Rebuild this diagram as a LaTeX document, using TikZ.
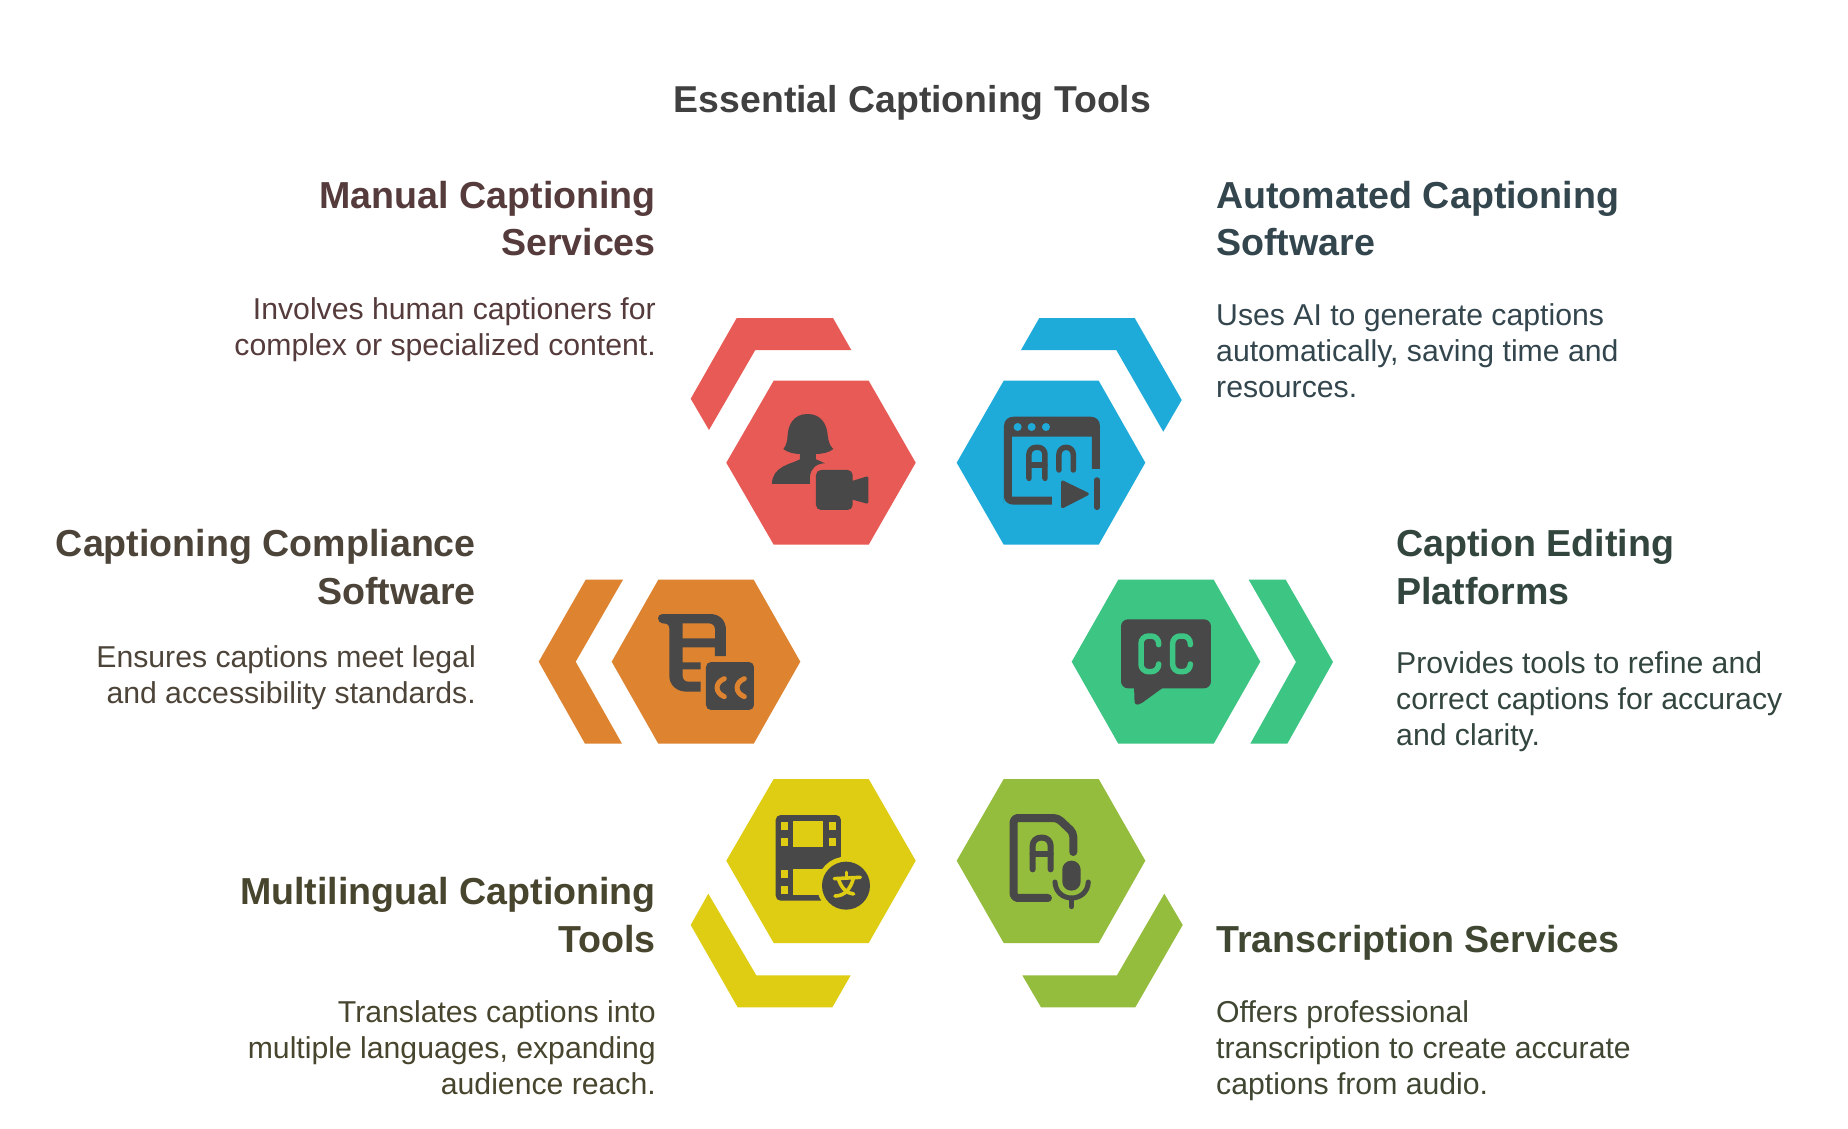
\documentclass[tikz,border=0pt]{standalone}
\usepackage{fontspec}
\setmainfont{Liberation Sans}
\definecolor{cred}{HTML}{E85A55}
\definecolor{cblue}{HTML}{1EABDA}
\definecolor{corange}{HTML}{DE8431}
\definecolor{cgreen}{HTML}{3CC583}
\definecolor{cyellow}{HTML}{DFCD14}
\definecolor{colive}{HTML}{94BC3D}
\definecolor{cicon}{HTML}{484848}
\definecolor{tred}{HTML}{553B3B}
\definecolor{tblue}{HTML}{33454D}
\definecolor{torange}{HTML}{4D4439}
\definecolor{tgreen}{HTML}{33463E}
\definecolor{tyellow}{HTML}{48452E}
\definecolor{tolive}{HTML}{3F4732}
\definecolor{ttitle}{HTML}{404040}
\newcommand{\hfirst}{\rule{0pt}{40pt}}
\newcommand{\bfirst}{\rule{0pt}{30pt}}
\tikzset{
  head/.style={inner sep=0pt,font=\fontsize{37.6}{47.5}\selectfont\bfseries},
  body/.style={inner sep=0pt,font=\fontsize{30.2}{36}\selectfont},
  R/.style={anchor=north east,align=right},
  L/.style={anchor=north west,align=left},
  icon/.style={x=0.3333pt,y=-0.3333pt},
}
\begin{document}
\begin{tikzpicture}[x=1pt,y=-1pt]
\useasboundingbox (0,0) rectangle (1848,1128);
\fill[white] (0,0) rectangle (1848,1128);
% hexagons and brackets
\fill[cred] (726.3,462.7)--(773.7,380.7)--(868.7,380.7)--(915.7,462.7)--(868.7,544.7)--(773.7,544.7)--cycle;
\fill[cred] (736.7,318)--(833,318)--(851.3,350)--(755.3,350)--(709,430)--(690.7,398.7)--cycle;
\fill[cblue] (956.7,462.7)--(1003.7,380.7)--(1098.7,380.7)--(1145.3,462.7)--(1098.7,544.7)--(1003.7,544.7)--cycle;
\fill[cblue] (1039.3,318)--(1134.7,318)--(1181.7,400)--(1163.3,431.7)--(1116.3,350)--(1021,350)--cycle;
\fill[corange] (611.7,661.7)--(658.3,579.7)--(753.7,579.7)--(800.3,661.7)--(753.7,743.7)--(658.3,743.7)--cycle;
\fill[corange] (585.7,579.7)--(623,579.7)--(575.7,661.7)--(622,743.7)--(585,743.7)--(538.7,661.7)--cycle;
\fill[cgreen] (1071.7,661.7)--(1118.3,579.7)--(1213.7,579.7)--(1260.3,661.7)--(1213.7,743.7)--(1118.3,743.7)--cycle;
\fill[cgreen] (1248.7,579.7)--(1285.7,579.7)--(1333,662)--(1287.3,743.7)--(1250.3,743.7)--(1296,662)--cycle;
\fill[cyellow] (726.3,860.7)--(773.7,779)--(868.7,779)--(915.7,860.7)--(868.7,943)--(773.7,943)--cycle;
\fill[cyellow] (708.3,893.7)--(690.7,925)--(737.7,1007.3)--(832.3,1007.3)--(850.7,975.3)--(756.3,975.3)--cycle;
\fill[colive] (956.7,860.7)--(1003.7,779)--(1098.7,779)--(1145.3,860.7)--(1098.7,943)--(1003.7,943)--cycle;
\fill[colive] (1164.3,893.7)--(1182.7,925)--(1135.3,1007.3)--(1041,1007.3)--(1022.3,975.3)--(1117,975.3)--cycle;
% person + camera
\begin{scope}[shift={(680,300)},icon]
\fill[cicon] (383,342) .. controls (340,342) and (325,375) .. (323,405)
  .. controls (322,425) and (318,438) .. (310,447)
  .. controls (322,458) and (345,462) .. (360,462) -- (360,478)
  .. controls (335,492) and (276,498) .. (276,552) -- (390,552) -- (390,530)
  .. controls (392,505) and (410,490) .. (435,490) -- (408,478) -- (408,462)
  .. controls (425,462) and (448,458) .. (460,447)
  .. controls (450,438) and (445,425) .. (443,405)
  .. controls (441,375) and (425,342) .. (383,342) -- cycle;
\fill[cicon,rounded corners=5pt] (408,510) rectangle (518,630);
\fill[cicon,rounded corners=1.5pt] (510,545)--(565,528)--(565,612)--(510,597)--cycle;
% window
\fill[cicon] (972,614) -- (972,378) .. controls (972,360) and (985,350) .. (1002,350)
  -- (1230,350) .. controls (1248,350) and (1260,360) .. (1260,378) -- (1260,507) -- (1236,507) -- (1236,410) -- (996,410)
  -- (996,590) -- (1116,590) -- (1116,614) -- (1000,614) .. controls (985,614) and (972,604) .. (972,590) -- cycle;
\foreach \cx in {1013,1055,1098} \fill[cblue] (\cx,381) circle[radius=4pt];
\begin{scope}[draw=cicon,line width=5.5pt,line cap=round,line join=round]
\draw[rounded corners=7pt] (1047,535)--(1047,442)--(1095,442)--(1095,535);
\draw (1047,495)--(1095,495);
\draw[rounded corners=7pt] (1137,510)--(1137,442)--(1180,442)--(1180,510);
\end{scope}
\fill[cicon,draw=cicon,line width=3pt,line join=round] (1148,546)--(1222,582)--(1148,620)--cycle;
\draw[cicon,line width=5.5pt,line cap=round] (1251,540)--(1251,622);
\end{scope}
% orange icon
\begin{scope}[shift={(530,570)},icon]
\fill[cicon] (397,132) -- (540,132) .. controls (570,132) and (588,152) .. (588,180) -- (588,258) -- (555,258) -- (555,232) -- (458,232) -- (458,277) -- (512,277) -- (512,298) -- (458,298) -- (458,318) .. controls (458,328) and (465,335) .. (475,335) -- (512,335) -- (512,365) -- (470,365) .. controls (440,365) and (418,345) .. (418,318) -- (418,175) .. controls (418,165) and (412,160) .. (397,160) .. controls (380,158) and (380,132) .. (397,132) -- cycle;
\fill[corange] (458,160) -- (535,160) .. controls (548,160) and (555,168) .. (555,180) -- (555,205) -- (458,205) -- cycle;
\fill[cicon,rounded corners=5pt] (528,276) rectangle (672,420);
\draw[corange,line width=5pt,line cap=round] (583,326) .. controls (554,338) and (554,368) .. (583,380);
\draw[corange,line width=5pt,line cap=round] (643,326) .. controls (614,338) and (614,368) .. (643,380);
\end{scope}
% cc bubble
\begin{scope}[shift={(1060,570)},icon]
\fill[cicon,rounded corners=7pt] (183,148) rectangle (453,355);
\fill[cicon,rounded corners=3pt] (222,345)--(224,405)--(240,403)--(320,345)--cycle;
\begin{scope}[draw=cgreen,line width=5.5pt,line cap=round]
\draw[rounded corners=7.5pt] (296,224)--(296,198)--(243,198)--(243,305)--(296,305)--(296,282);
\draw[rounded corners=7.5pt] (391,224)--(391,198)--(338,198)--(338,305)--(391,305)--(391,282);
\end{scope}
\end{scope}
% film + translate
\begin{scope}[shift={(680,770)},icon]
\fill[cicon,rounded corners=5pt] (287,135) rectangle (483,392);
\foreach \a/\b in {303/155,303/204,303/300,303/348,447/155,447/204}
  \fill[cyellow] (\a,\b) rectangle ++(20,24);
\fill[cyellow] (339,153) rectangle (430,231);
\fill[cyellow] (339,298) rectangle (440,374);
\fill[cyellow] (498,347) circle[radius=29pt];
\fill[cicon] (498,347) circle[radius=24pt];
\begin{scope}[draw=cyellow,line width=3.6pt,line cap=round]
\draw (500,307)--(500,322);
\draw (463,326)--(541,322);
\draw (476,328) .. controls (482,350) and (500,372) .. (521,372);
\draw (520,326) .. controls (512,355) and (495,378) .. (465,378);
\end{scope}
\end{scope}
% doc + mic
\begin{scope}[shift={(680,770)},icon]
\begin{scope}[draw=cicon,line cap=round]
\draw[line width=8pt,rounded corners=4pt,line join=round] (1180,246)--(1180,188)--(1133,144)--(1001,144)--(1001,384)--(1104,384);
\draw[line width=6pt,rounded corners=8pt] (1058,298)--(1058,203)--(1112,203)--(1112,298);
\draw[line width=6pt] (1058,252)--(1112,252);
\draw[line width=5pt] (1125,336) .. controls (1128,400) and (1222,400) .. (1225,336);
\draw[line width=5pt] (1175,385)--(1175,410);
\end{scope}
\fill[cicon,rounded corners=9pt] (1147,272) rectangle (1202,362);
\end{scope}
% texts
\node[inner sep=0pt,anchor=base,font=\fontsize{37.4}{42}\selectfont\bfseries,text=ttitle] (title) at (912.5,112) {Essential Captioning Tools};
\node[head,R,text=tred] (h1) at (656,168) {\hfirst Manual Captioning\\Services};
\node[body,R,text=tred] (b1) at (656,289.5) {\bfirst Involves human captioners for\\complex or specialized content.};
\node[head,L,text=tblue] (h2) at (1216,168) {\hfirst Automated Captioning\\Software};
\node[body,L,text=tblue] (b2) at (1216,295.5) {\bfirst Uses AI to generate captions\\automatically, saving time and\\resources.};
\node[head,R,text=torange] (h3) at (476,516.3) {\hfirst Captioning Compliance\\Software};
\node[body,R,text=torange] (b3) at (476,637.5) {\bfirst Ensures captions meet legal\\and accessibility standards.};
\node[head,L,text=tgreen] (h4) at (1396,516.3) {\hfirst Caption Editing\\Platforms};
\node[body,L,text=tgreen] (b4) at (1396,643.5) {\bfirst Provides tools to refine and\\correct captions for accuracy\\and clarity.};
\node[head,R,text=tyellow] (h5) at (656,864.7) {\hfirst Multilingual Captioning\\Tools};
\node[body,R,text=tyellow] (b5) at (656,992) {\bfirst Translates captions into\\multiple languages, expanding\\audience reach.};
\node[head,L,text=tolive] (h6) at (1216,912) {\hfirst Transcription Services};
\node[body,L,text=tolive] (b6) at (1216,992) {\bfirst Offers professional\\transcription to create accurate\\captions from audio.};
\end{tikzpicture}
\end{document}
